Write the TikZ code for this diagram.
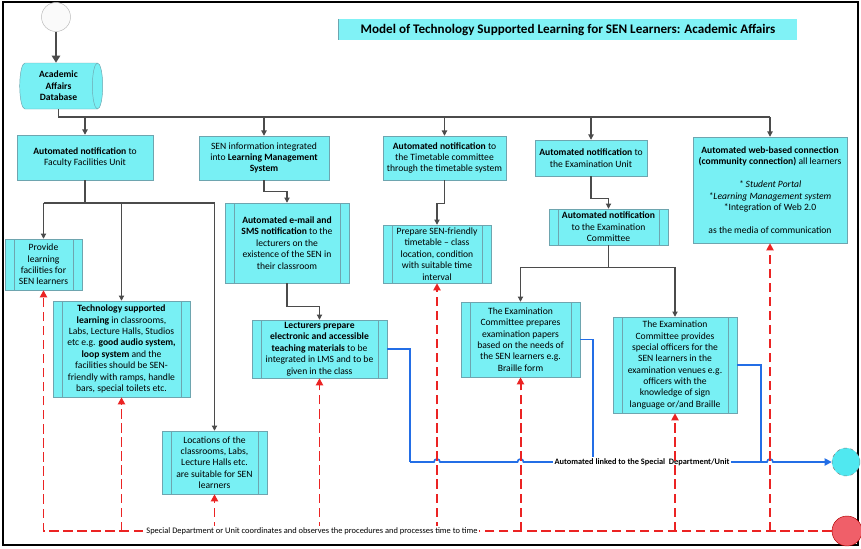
\documentclass[tikz,border=0pt]{standalone}
\usepackage{fontspec}
\setmainfont{Carlito}
\usetikzlibrary{arrows.meta,shapes.geometric,shadows}
\definecolor{boxcyan}{RGB}{120,240,244}
\definecolor{titlecyan}{RGB}{128,242,246}
\definecolor{boxline}{RGB}{110,165,175}
\definecolor{conngray}{RGB}{75,75,75}
\definecolor{linkblue}{RGB}{35,110,230}
\definecolor{dashred}{RGB}{235,35,35}
\definecolor{endred}{RGB}{240,95,105}
\definecolor{endcyan}{RGB}{80,232,240}
\begin{document}
\begin{tikzpicture}[x = 0.03cm, y = -0.03cm,
    wh/.style 2 args = {minimum width = #1*0.03cm, minimum height = #2*0.03cm},
    box/.style = {draw = boxline, fill = boxcyan, align = center, inner sep = 1pt,
      font = \fontsize{8.2}{9.7}\selectfont,
      drop shadow = {shadow xshift = 1pt, shadow yshift = -1pt, opacity = 0.3}},
    procbox/.style = {box, path picture = {
      \draw [boxline] ([xshift = 0.27cm]path picture bounding box.north west) -- ([xshift = 0.27cm]path picture bounding box.south west);
      \draw [boxline] ([xshift = -0.27cm]path picture bounding box.north east) -- ([xshift = -0.27cm]path picture bounding box.south east);}},
    conn/.style = {draw = conngray, line width = 0.9pt},
    arr/.style = {conn, -{Triangle[width = 4.5pt, length = 4.5pt]}},
    redarr/.style = {draw = dashred, line width = 1.7pt, dash pattern = on 8pt off 4pt, -{Triangle[width = 6pt, length = 6pt]}},
    blueline/.style = {draw = linkblue, line width = 1.4pt},
    small/.style = {font = \fontsize{7.2}{8}\selectfont, fill = white, inner sep = 1.5pt}]
  \useasboundingbox (0, 0) rectangle (861, 548);
  \draw [line width = 1pt] (3, 2) rectangle (858, 545);

  \node [circle, draw = gray!55, fill = gray!4, minimum size = 29*0.03cm, inner sep = 0pt] (start) at (56, 17) {};
  \node [cylinder, draw = boxline, fill = boxcyan, aspect = 0.35, wh = {46}{83}, align = center, inner sep = 0pt,
    font = \bfseries\fontsize{8.2}{9.7}\selectfont] (db) at (58.5, 86) {Academic\\Affairs\\Database};
  \node [fill = titlecyan, wh = {458}{21}, font = \bfseries\fontsize{11.2}{12}\selectfont] (title) at (568, 29.5)
    {Model of Technology Supported Learning for SEN Learners: Academic Affairs};
  \draw [boxline, line width = 1pt] (title.north west) -- (title.south west);

  \node [box, wh = {136}{45}] (facnote) at (85, 157.5) {\textbf{Automated notification} to\\Faculty Facilities Unit};
  \node [box, wh = {130}{44}] (lmsinfo) at (264, 158) {SEN information integrated\\into \textbf{Learning Management}\\\textbf{System}};
  \node [box, wh = {123}{44}] (ttnote) at (444.5, 158) {\textbf{Automated notification} to\\the Timetable committee\\through the timetable system};
  \node [box, wh = {112}{36}] (examnote) at (591, 158) {\textbf{Automated notification} to\\the Examination Unit};
  \node [box, wh = {154}{106}] (webconn) at (770, 190) {\textbf{Automated web-based connection}\\\textbf{(community connection)} all learners\\[9.7pt]\textit{* Student Portal}\\\textit{*Learning Management system}\\*Integration of Web 2.0\\[9.7pt]as the media of communication};

  \node [procbox, wh = {77}{51}] (provide) at (43.5, 264.5) {Provide\\learning\\facilities for\\SEN learners};
  \node [procbox, wh = {137}{96}] (techlearn) at (121.5, 349) {\textbf{Technology supported}\\\textbf{learning} in classrooms,\\Labs, Lecture Halls, Studios\\etc e.g. \textbf{good audio system,}\\\textbf{loop system} and the\\facilities should be SEN-\\friendly with ramps, handle\\bars, special toilets etc.};
  \node [procbox, wh = {105}{63}] (locations) at (214.5, 462.5) {Locations of the\\classrooms, Labs,\\Lecture Halls etc.\\are suitable for SEN\\learners};
  \node [procbox, wh = {124}{80}] (email) at (287, 243) {\textbf{Automated e-mail and}\\\textbf{SMS notification} to the\\lecturers on the\\existence of the SEN in\\their classroom};
  \node [procbox, wh = {135}{58}] (lecturers) at (319.5, 349) {\textbf{Lecturers prepare}\\\textbf{electronic and accessible}\\\textbf{teaching materials} to be\\integrated in LMS and to be\\given in the class};
  \node [procbox, wh = {108}{58}] (ttprep) at (437, 254) {Prepare SEN-friendly\\timetable – class\\location, condition\\with suitable time\\interval};
  \node [procbox, wh = {119}{36}] (examcom) at (608.5, 227) {\textbf{Automated notification}\\to the Examination\\Committee};
  \node [procbox, wh = {119}{75}] (papers) at (520.5, 339.5) {The Examination\\Committee prepares\\examination papers\\based on the needs of\\the SEN learners e.g.\\Braille form};
  \node [procbox, wh = {124}{96}] (officers) at (675, 365) {The Examination\\Committee provides\\special officers for the\\SEN learners in the\\examination venues e.g.\\officers with the\\knowledge of sign\\language or/and Braille};

  \node [circle, draw = gray, dashed, fill = endcyan, minimum size = 28*0.03cm, inner sep = 0pt] (bluend) at (846, 462) {};
  \node [circle, draw = red!70!black, fill = endred, minimum size = 30*0.03cm, inner sep = 0pt] (redend) at (847, 531) {};

  \coordinate (bus) at (0, 117);
  \coordinate (fork) at (0, 203);
  \coordinate (bluebus) at (0, 462);
  \coordinate (redbus) at (0, 531);
  \coordinate (bluejoin) at (410, 462);

  \draw [conn, line width = 2pt, -{Triangle[width = 7pt, length = 6pt]}] (start) -- (start |- db.north);
  \draw [conn] (db.south) -- (db.south |- bus) -- (bus -| webconn);
  \foreach \n in {facnote, lmsinfo, ttnote, examnote, webconn}
    \draw [arr] (bus -| \n) -- (\n);
  \draw [conn] (facnote) -- (facnote |- fork);
  \draw [conn] (fork -| provide) -- (fork -| locations);
  \foreach \n in {provide, techlearn, locations}
    \draw [arr] (fork -| \n) -- (\n);
  \draw [arr] (lmsinfo.south) -- ++(0, 11) -| (email.north);
  \draw [arr] (email.south) -- ++(0, 23) -| (lecturers.north);
  \draw [arr] (ttnote.south) -- ++(0, 23) -| (ttprep.north);
  \draw [arr] (examnote.south) -- ++(0, 22) -| (examcom.north);
  \draw [conn] (examcom.south) -- ++(0, 22) coordinate (exfork);
  \draw [arr] (exfork) -| (papers.north);
  \draw [arr] (exfork) -| (officers.north);

  \draw [blueline] (lecturers.east) -| (bluejoin);
  \draw [blueline] (papers.east) -- ++(13, 0) coordinate (pj) -- (pj |- bluebus);
  \draw [blueline] (officers.east) -- ++(24, 0) coordinate (oj) -- (oj |- bluebus);
  \draw [blueline, -{Triangle[width = 6pt, length = 6pt]}] (bluejoin)
    -- ([xshift = -0.09cm]ttprep |- bluebus) arc [start angle = 180, end angle = 0, radius = 0.09cm]
    -- ([xshift = -0.09cm]papers |- bluebus) arc [start angle = 180, end angle = 0, radius = 0.09cm]
    -- ([xshift = -0.09cm]webconn |- bluebus) arc [start angle = 180, end angle = 0, radius = 0.09cm]
    -- (bluend);
  \node [small, font = \bfseries\fontsize{7.1}{8}\selectfont] (bluetxt) at (642, 462) {Automated linked to the Special\ \ Department/Unit};

  \draw [redarr] (redend) -- (redbus -| provide) -- (provide);
  \foreach \n in {techlearn, locations, lecturers, ttprep, papers, officers, webconn}
    \draw [redarr] (redbus -| \n) -- (\n);
  \node [small] (redtxt) at (312, 531) {Special Department or Unit coordinates and observes the procedures and processes time to time};
\end{tikzpicture}
\end{document}
